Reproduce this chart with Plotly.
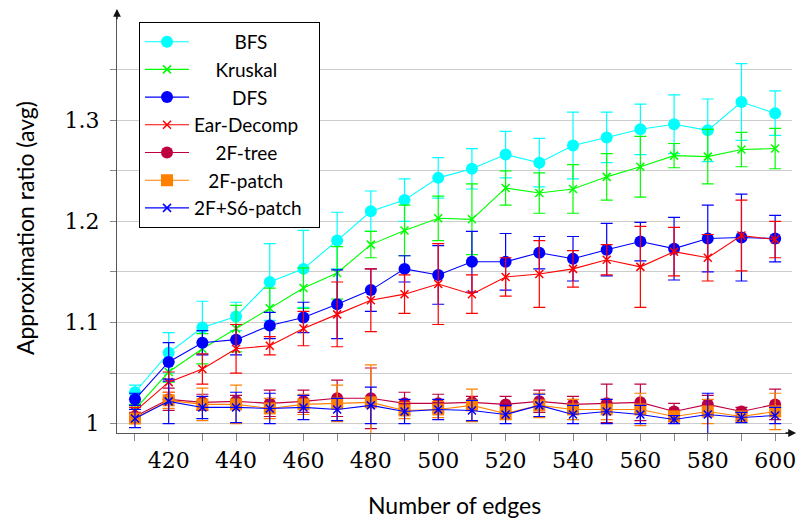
import plotly.graph_objects as go

edges = [410, 420, 430, 440, 450, 460, 470, 480, 490, 500,
         510, 520, 530, 540, 550, 560, 570, 580, 590, 600]

bfs = [1.031, 1.070, 1.095, 1.106, 1.140, 1.153, 1.181, 1.210, 1.221, 1.243,
       1.252, 1.266, 1.258, 1.275, 1.283, 1.291, 1.296, 1.290, 1.318, 1.307]
bfs_err = [0.007, 0.020, 0.026, 0.014, 0.038, 0.038, 0.028, 0.020, 0.021, 0.020,
           0.020, 0.023, 0.024, 0.033, 0.025, 0.025, 0.029, 0.031, 0.038, 0.022]

kruskal = [1.014, 1.051, 1.074, 1.094, 1.114, 1.134, 1.149, 1.177, 1.191, 1.203,
           1.202, 1.233, 1.228, 1.232, 1.244, 1.254, 1.265, 1.264, 1.271, 1.272]
kruskal_err = [0.005, 0.010, 0.015, 0.023, 0.020, 0.020, 0.026, 0.013, 0.025, 0.022,
               0.035, 0.017, 0.020, 0.024, 0.023, 0.030, 0.012, 0.027, 0.017, 0.020]

dfs = [1.024, 1.061, 1.080, 1.083, 1.097, 1.105, 1.118, 1.132, 1.153, 1.147,
       1.160, 1.160, 1.169, 1.163, 1.172, 1.180, 1.173, 1.183, 1.184, 1.183]
dfs_err = [0.006, 0.019, 0.012, 0.015, 0.013, 0.015, 0.034, 0.021, 0.013, 0.029,
           0.030, 0.028, 0.016, 0.022, 0.026, 0.019, 0.031, 0.033, 0.043, 0.023]

ear = [1.012, 1.041, 1.054, 1.074, 1.077, 1.094, 1.108, 1.122, 1.128, 1.138,
       1.128, 1.145, 1.148, 1.153, 1.162, 1.155, 1.170, 1.164, 1.186, 1.182]
ear_err = [0.004, 0.010, 0.015, 0.024, 0.009, 0.017, 0.032, 0.031, 0.019, 0.040,
           0.019, 0.019, 0.033, 0.018, 0.015, 0.040, 0.024, 0.023, 0.035, 0.018]

tree2f = [1.007, 1.024, 1.021, 1.022, 1.020, 1.022, 1.025, 1.025, 1.020, 1.020,
          1.021, 1.019, 1.022, 1.019, 1.020, 1.021, 1.012, 1.019, 1.012, 1.019]
tree2f_err = [0.004, 0.011, 0.008, 0.006, 0.013, 0.011, 0.018, 0.030, 0.011, 0.009,
              0.006, 0.008, 0.011, 0.008, 0.019, 0.018, 0.008, 0.009, 0.004, 0.015]

patch2f = [1.005, 1.023, 1.019, 1.019, 1.015, 1.019, 1.020, 1.021, 1.013, 1.014,
           1.018, 1.010, 1.018, 1.014, 1.014, 1.014, 1.007, 1.012, 1.007, 1.012]
patch2f_err = [0.004, 0.008, 0.016, 0.019, 0.010, 0.010, 0.018, 0.037, 0.008, 0.008,
               0.016, 0.006, 0.012, 0.010, 0.010, 0.016, 0.005, 0.012, 0.004, 0.018]

s6patch = [1.005, 1.022, 1.016, 1.016, 1.015, 1.016, 1.014, 1.018, 1.012, 1.014,
           1.013, 1.009, 1.018, 1.009, 1.012, 1.009, 1.004, 1.009, 1.006, 1.008]
s6patch_err = [0.009, 0.022, 0.011, 0.015, 0.015, 0.012, 0.011, 0.018, 0.012, 0.010,
               0.010, 0.009, 0.011, 0.009, 0.012, 0.009, 0.004, 0.021, 0.005, 0.008]

x_ticks = [420, 440, 460, 480, 500, 520, 540, 560, 580, 600]
x_minor = [410, 430, 450, 470, 490, 510, 530, 550, 570, 590]
y_ticks = [1, 1.05, 1.1, 1.15, 1.2, 1.25, 1.3, 1.35]
y_ticktext = ["1", "", "1.1", "", "1.2", "", "1.3", ""]

EN = "\u2002"
TH = "\u2009"
TAIL = EN + TH
series = [
    ("BFS", EN * 4 + TH, bfs, bfs_err, "#00FFFF", "circle", 12),
    ("Kruskal", EN * 2 + TH, kruskal, kruskal_err, "#00FF00", "x-thin", 8),
    ("DFS", EN * 4, dfs, dfs_err, "#0000FF", "circle", 12),
    ("Ear-Decomp", "", ear, ear_err, "#FF0000", "x-thin", 8),
    ("2F-tree", EN * 2 + TH, tree2f, tree2f_err, "#BF0040", "circle", 12),
    ("2F-patch", EN + TH * 2, patch2f, patch2f_err, "#FF8000", "square", 12),
    ("2F+S6-patch", "", s6patch, s6patch_err, "#0000FF", "x-thin", 8),
]

fig = go.Figure()
for name, pad, ys, errs, color, sym, size in series:
    thin = sym == "x-thin"
    fig.add_trace(go.Scatter(
        x=edges, y=ys, name=pad + name + TAIL, mode="lines+markers",
        line=dict(color=color, width=1.1),
        marker=dict(symbol=sym, size=size, color=color,
                    line=dict(color=color, width=1.5 if thin else 0)),
        error_y=dict(type="data", array=errs, visible=True,
                     color=color, thickness=1.2, width=6),
    ))

TICKFONT = dict(family="DejaVu Serif", size=22, color="black")

fig.update_layout(
    width=811, height=520,
    margin=dict(l=109, r=27, t=2, b=95, autoexpand=False),
    paper_bgcolor="white", plot_bgcolor="white",
    showlegend=True,
    legend=dict(
        x=0.0326, y=0.972, xanchor="left", yanchor="top",
        bgcolor="white", bordercolor="black", borderwidth=1,
        font=dict(family="Lato", size=19, color="black"),
        itemwidth=44,
    ),
    xaxis=dict(
        range=[404.66, 605], tickvals=x_ticks, automargin=False,
        showgrid=False, zeroline=False,
        showline=True, linecolor="#555555", linewidth=1.3,
        ticks="outside", ticklen=7, tickcolor="#888888", tickwidth=1,
        minor=dict(tickvals=x_minor, ticks="outside", ticklen=7,
                   tickcolor="#888888", showgrid=False),
        tickfont=TICKFONT,
    ),
    yaxis=dict(
        range=[0.9907, 1.409], tickvals=y_ticks, ticktext=y_ticktext,
        automargin=False,
        showgrid=True, gridcolor="#cccccc", gridwidth=1, zeroline=False,
        showline=True, linecolor="#555555", linewidth=1.3,
        ticks="outside", ticklen=6, tickcolor="#888888", tickwidth=1,
        ticklabelstandoff=6,
        tickfont=TICKFONT,
    ),
    annotations=[
        dict(x=1.006, y=0, xref="paper", yref="paper", ax=-12, ay=0,
             showarrow=True, arrowhead=2, arrowsize=1.2, arrowwidth=1.3,
             arrowcolor="#111111", text=""),
        dict(x=0, y=1.003, xref="paper", yref="paper", ax=0, ay=12,
             showarrow=True, arrowhead=2, arrowsize=1.2, arrowwidth=1.3,
             arrowcolor="#111111", text=""),
        dict(x=0.5007, y=-0.170, xref="paper", yref="paper",
             xanchor="center", yanchor="middle", showarrow=False,
             text="Number of edges",
             font=dict(family="Lato", size=23, color="black")),
        dict(x=-0.136, y=0.485, xref="paper", yref="paper",
             xanchor="center", yanchor="middle", showarrow=False,
             textangle=-90, text="Approximation ratio (avg)",
             font=dict(family="Lato", size=23, color="black")),
    ],
)

fig.write_html("out.html")
